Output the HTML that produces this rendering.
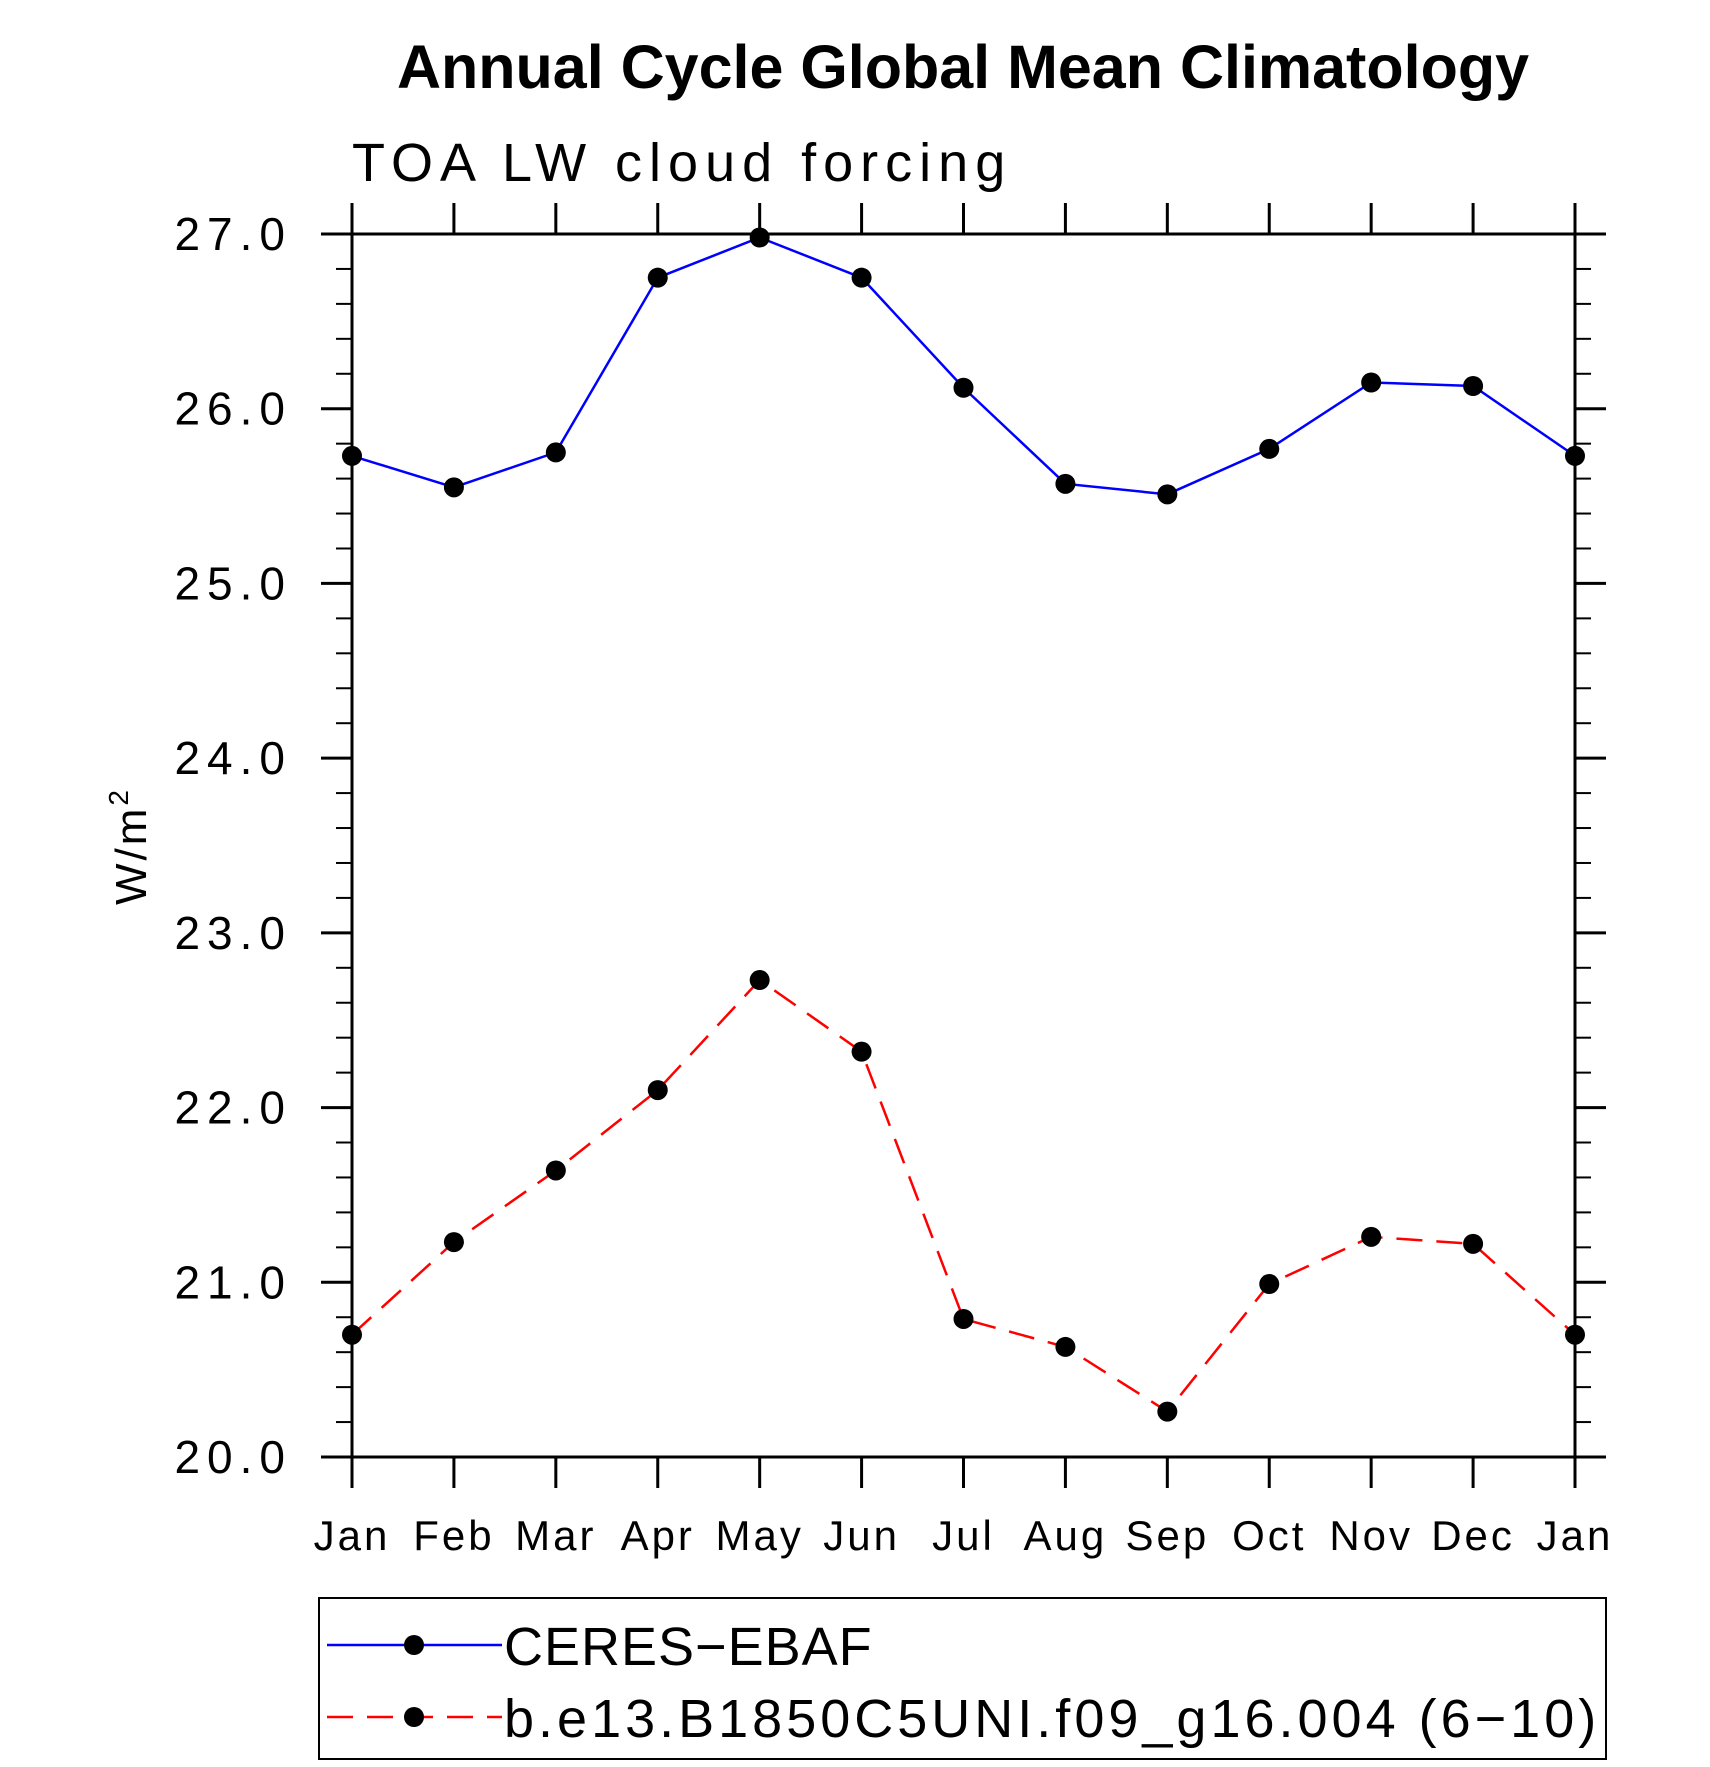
<!DOCTYPE html>
<html><head><meta charset="utf-8"><style>
html,body{margin:0;padding:0;background:#fff;}
svg text{font-family:"Liberation Sans",sans-serif;}
</style></head><body>
<svg id="chart" width="1710" height="1762" viewBox="0 0 1710 1762" xmlns="http://www.w3.org/2000/svg">
<text x="963" y="88" text-anchor="middle" font-size="61" font-weight="bold">Annual Cycle Global Mean Climatology</text>
<text x="352" y="181" font-size="54" font-weight="normal" letter-spacing="7">TOA LW cloud forcing</text>
<text transform="translate(146,846) rotate(-90)" text-anchor="middle" font-size="44" letter-spacing="3">W/m<tspan dy="-18" font-size="28">2</tspan></text>
<g id="axes"></g>
<g id="series"></g>
<rect x="319" y="1598" width="1287" height="161" fill="none" stroke="#000" stroke-width="2"/>
<g>
<line x1="327" y1="1645" x2="502" y2="1645" stroke="#0000ff" stroke-width="2.5"/>
<circle cx="414" cy="1645" r="10" fill="#000"/>
<text x="504" y="1665" font-size="54" letter-spacing="1">CERES−EBAF</text>
</g>
<g>
<line x1="327" y1="1717" x2="502" y2="1717" stroke="#ff0000" stroke-width="2.5" stroke-dasharray="26,14"/>
<circle cx="414" cy="1717" r="10" fill="#000"/>
<text x="504" y="1737" font-size="54" letter-spacing="4">b.e13.B1850C5UNI.f09_g16.004 (6−10)</text>
</g>
</svg>
<script>
const months = ["Jan","Feb","Mar","Apr","May","Jun","Jul","Aug","Sep","Oct","Nov","Dec","Jan"];
const ceresValues = [25.73,25.55,25.75,26.75,26.98,26.75,26.12,25.57,25.51,25.77,26.15,26.13,25.73];
const modelValues = [20.70,21.23,21.64,22.10,22.73,22.32,20.79,20.63,20.26,20.99,21.26,21.22,20.70];
const yTickLabels = ["20.0","21.0","22.0","23.0","24.0","25.0","26.0","27.0"];
const yMin = 20, yMax = 27;

const NS = "http://www.w3.org/2000/svg";
const L = 352, R = 1575, T = 234, B = 1457;
function xs(i){ return L + (R - L) * i / (months.length - 1); }
function ys(v){ return B - (B - T) * (v - yMin) / (yMax - yMin); }
function mk(tag, attrs, parent){
  const e = document.createElementNS(NS, tag);
  for (const k in attrs) e.setAttribute(k, attrs[k]);
  parent.appendChild(e);
  return e;
}
const axes = document.getElementById('axes');
const frame = mk('rect', {x:L, y:T, width:R-L, height:B-T, fill:'none', stroke:'#000', 'stroke-width':3}, axes);


months.forEach((m, i) => {
  const x = xs(i);
  const t1 = mk('line', {x1:x, y1:B, x2:x, y2:B+31, stroke:'#000', 'stroke-width':3}, axes);
  
  
  const t2 = mk('line', {x1:x, y1:T, x2:x, y2:T-31, stroke:'#000', 'stroke-width':3}, axes);
  
  
  const lab = mk('text', {x:x, y:1550, 'text-anchor':'middle', 'font-size':42, 'letter-spacing':3}, axes);
  lab.textContent = m;
  
  
});
yTickLabels.forEach((s) => {
  const v = parseFloat(s);
  const y = ys(v);
  const a = mk('line', {x1:L-31, y1:y, x2:L, y2:y, stroke:'#000', 'stroke-width':3}, axes);
  
  
  const b = mk('line', {x1:R, y1:y, x2:R+31, y2:y, stroke:'#000', 'stroke-width':3}, axes);
  
  
  const lab = mk('text', {x:292, y:y+16, 'text-anchor':'end', 'font-size':46, 'letter-spacing':7}, axes);
  lab.textContent = s;
  
  
});
for (let v = yMin; v < yMax - 0.01; v += 1) {
  for (let k = 1; k < 5; k++) {
    const y = ys(v + k * 0.2);
    const a = mk('line', {x1:L-16, y1:y, x2:L, y2:y, stroke:'#000', 'stroke-width':2}, axes);
    
    
    const b = mk('line', {x1:R, y1:y, x2:R+16, y2:y, stroke:'#000', 'stroke-width':2}, axes);
    
    
  }
}
const series = document.getElementById('series');
function drawSeries(vals, color, dash, name){
  const pts = vals.map((v, i) => xs(i) + ',' + ys(v)).join(' ');
  const pl = mk('polyline', {points:pts, fill:'none', stroke:color, 'stroke-width':2.5}, series);
  if (dash) pl.setAttribute('stroke-dasharray', dash);
  
  
  vals.forEach((v, i) => {
    const c = mk('circle', {cx:xs(i), cy:ys(v), r:10, fill:'#000'}, series);
    
    
  });
}
drawSeries(ceresValues, '#0000ff', null, 'ceres');
drawSeries(modelValues, '#ff0000', '26,14', 'model');
</script>
</body></html>
